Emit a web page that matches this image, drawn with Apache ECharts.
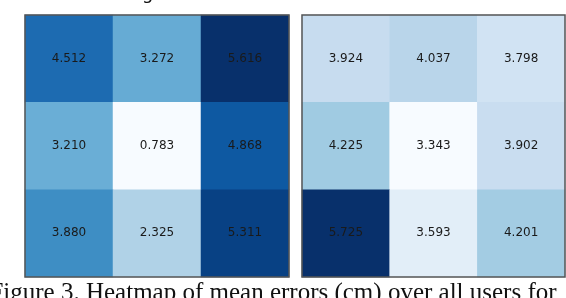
<!DOCTYPE html>
<html><head><meta charset="utf-8">
<script src="https://cdn.jsdelivr.net/npm/echarts@6/dist/echarts.min.js"></script>
<style>html,body{margin:0;padding:0;background:#fff}#c{width:566px;height:298px}</style>
</head><body><div id="c"></div>
<script>
const cols = ['c0','c1','c2'];
const rows = ['r0','r1','r2'];
const leftValues = [
  [4.512, 3.272, 5.616],
  [3.210, 0.783, 4.868],
  [3.880, 2.325, 5.311]
];
const rightValues = [
  [3.924, 4.037, 3.798],
  [4.225, 3.343, 3.902],
  [5.725, 3.593, 4.201]
];
const blues = ['#f7fbff','#deebf7','#c6dbef','#9ecae1','#6baed6','#4292c6','#2171b5','#08519c','#08306b'];
const caption = 'Figure 3. Heatmap of mean errors (cm) over all users for';

function toData(m){const d=[];m.forEach((r,i)=>r.forEach((v,j)=>d.push([j,i,v])));return d;}
function flat(m){return m.reduce((a,r)=>a.concat(r),[]);}

const grids=[{left:25,top:15,width:264,height:262},{left:302,top:15,width:263,height:262}];
const chart=echarts.init(document.getElementById('c'),null,{renderer:'canvas'});
const mats=[leftValues,rightValues];
chart.setOption({
  animation:false,
  grid:grids.map(g=>Object.assign({show:true,z:5,borderColor:'#555',borderWidth:1.5,backgroundColor:'transparent'},g)),
  xAxis:mats.map((m,k)=>({type:'category',data:cols,gridIndex:k,show:false})),
  yAxis:mats.map((m,k)=>({type:'category',data:rows,gridIndex:k,show:false,inverse:true})),
  visualMap:mats.map((m,k)=>({show:false,seriesIndex:k,min:Math.min(...flat(m)),max:Math.max(...flat(m)),inRange:{color:blues},dimension:2})),
  series:mats.map((m,k)=>({type:'heatmap',xAxisIndex:k,yAxisIndex:k,data:toData(m),
    label:{show:true,color:'#1a1a1a',fontFamily:'DejaVu Sans',fontSize:12,formatter:p=>p.value[2].toFixed(3)},
    itemStyle:{borderWidth:0}})),
  graphic:[
    {type:'text',style:{x:273,y:281,text:caption,textAlign:'center',textVerticalAlign:'top',font:'25px "Liberation Serif"',fill:'#111'}},
    {type:'text',style:{x:142,y:-15,text:'g',font:'18px "DejaVu Sans"',fill:'#111'}}
  ]
});
</script></body></html>
